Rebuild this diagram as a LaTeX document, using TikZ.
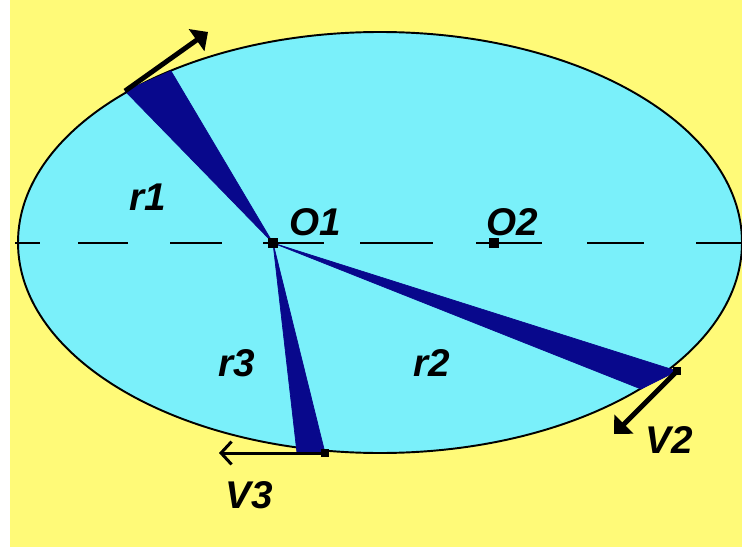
\documentclass[tikz,border=0pt]{standalone}
\usepackage{fontspec}
\setmainfont{Liberation Sans}
\usetikzlibrary{arrows.meta}

\definecolor{bgyellow}{RGB}{255,250,120}
\definecolor{orbitcyan}{RGB}{122,240,250}
\definecolor{sectorblue}{RGB}{8,8,140}

\begin{document}
\begin{tikzpicture}[x=0.02cm, y=-0.02cm,
    lbl/.style={font=\fontsize{22}{26}\selectfont\bfseries\itshape, inner sep=0pt},
    sq/.style={fill=black, minimum size=5.6pt, inner sep=0pt},
    sector/.style={fill=sectorblue, draw=sectorblue, line width=0.4pt},
    vec/.style={line width=2.8pt, -{Triangle[length=8pt, width=15pt]}}]
          \useasboundingbox (0,0) rectangle (742,547);
          \fill[white] (0,0) rectangle (742,547);
          \fill[bgyellow] (10,0) rectangle (742,547);
          \draw[fill=orbitcyan, line width=1.1pt] (380,242.5) ellipse [x radius=362, y radius=210.5];
          \foreach \a/\b in {15/40, 78/128, 170/222, 263/324, 360/433, 476/542, 587/644, 696/742}
            \draw[line width=1pt] (\a,243) -- (\b,243);

          \coordinate (O1) at (273,243);
          \coordinate (A1) at (125,91);
          \coordinate (B1) at (171,71);
          \coordinate (A2) at (641,389);
          \coordinate (B2) at (677,371);
          \coordinate (A3) at (297,453);
          \coordinate (B3) at (325,453);
          \coordinate (T1) at (208,32);
          \coordinate (T2) at (614,434);
          \coordinate (T3) at (219,453);

          \fill[sector] (O1) -- (A1) -- (B1) -- cycle;
          \fill[sector] (O1) -- (A2) -- (B2) -- cycle;
          \fill[sector] (O1) -- (A3) -- (B3) -- cycle;

          \node[sq] (o1) at (O1) {};
          \node[sq] (o2) at (494,243) {};
          \node[sq, minimum size=5pt] (v2) at (B2) {};
          \node[sq, minimum size=4.6pt] (v3) at (B3) {};

          \draw[vec] (A1) -- (T1);
          \draw[vec] (v2.center) -- (T2);
          \draw[line width=1.7pt, -{Straight Barb[length=6pt, width=13pt, line width=1.7pt]}] (v3.center) -- (T3);

          \node[lbl] (lr1) at (148,197) {r1};
          \node[lbl] (lr2) at (432,363) {r2};
          \node[lbl] (lr3) at (237,363) {r3};
          \node[lbl] (lo1) at (315,222) {O1};
          \node[lbl] (lo2) at (512,222) {O2};
          \node[lbl] (lv2) at (669,440) {V2};
          \node[lbl] (lv3) at (249,495) {V3};
        \end{tikzpicture}
\end{document}
